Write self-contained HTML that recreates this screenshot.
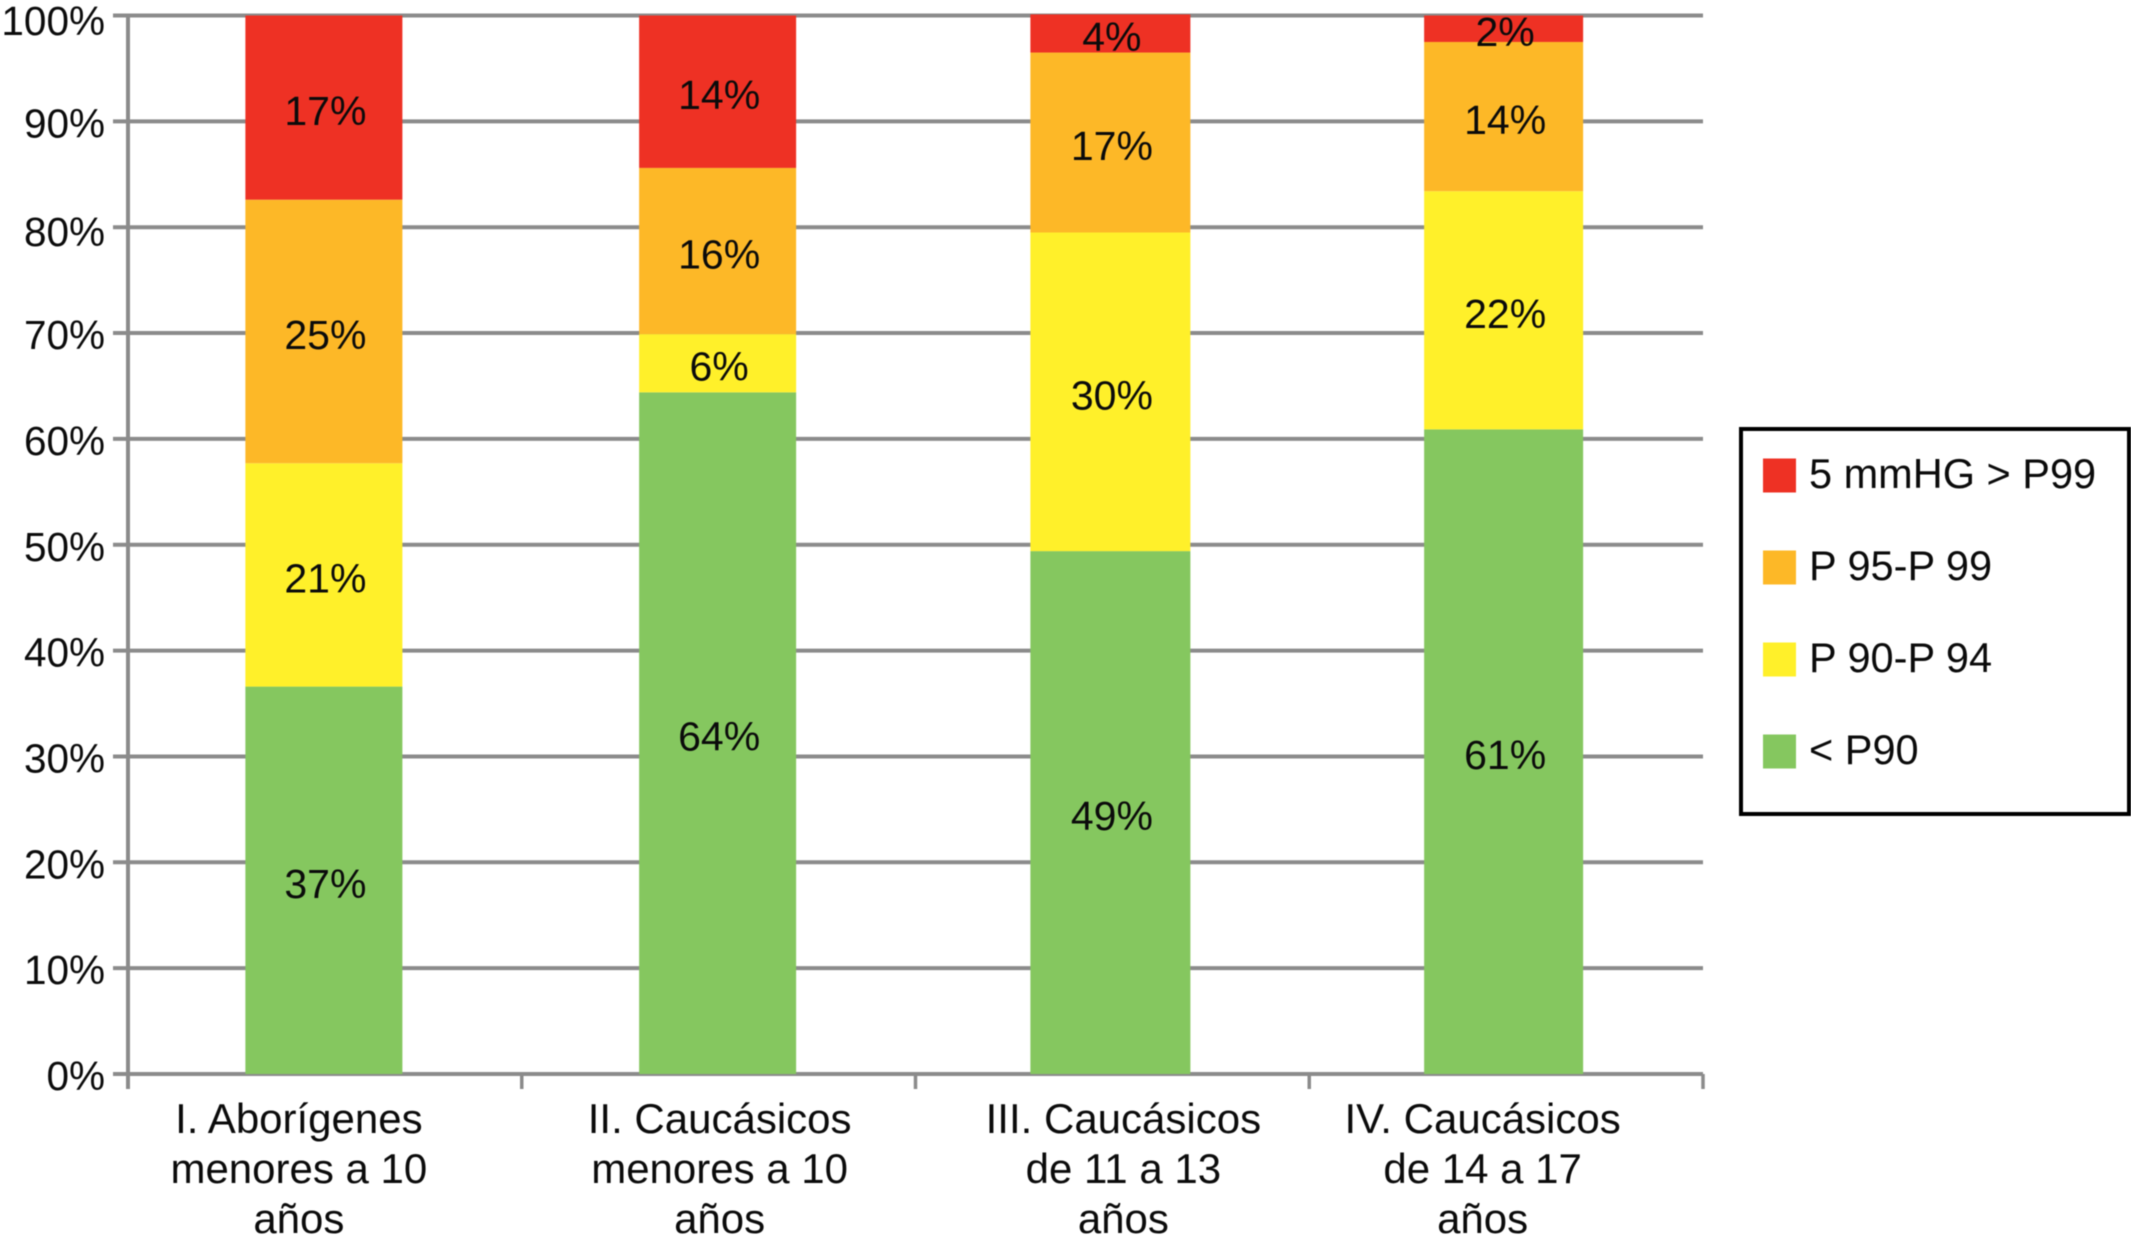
<!DOCTYPE html>
<html lang="es">
<head>
<meta charset="utf-8">
<title>Distribución por percentiles de presión arterial</title>
<style>
html,body{margin:0;padding:0;background:#fff;width:2131px;height:1242px;overflow:hidden}
svg{display:block;filter:blur(0.4px)}
text{font-family:"Liberation Sans",Arial,sans-serif;fill:#0b0b0b}
</style>
</head>
<body>
<svg id="chart" xmlns="http://www.w3.org/2000/svg" width="2131" height="1242" viewBox="0 0 2131 1242">
<g id="grid"></g>
<g id="axes"></g>
<g id="bars"></g>
<g id="labels"></g>
<g id="cats"></g>
<g id="yticks"></g>
<g id="legend">
<rect x="1741" y="429" width="388" height="385" fill="#fff" stroke="#000" stroke-width="4"/>
<g id="legend-items"></g>
</g>
</svg>
<script>
const categories = [
  ["I. Aborígenes", "menores a 10", "años"],
  ["II. Caucásicos", "menores a 10", "años"],
  ["III. Caucásicos", "de 11 a 13", "años"],
  ["IV. Caucásicos", "de 14 a 17", "años"]
];
const seriesNames = ["< P90", "P 90-P 94", "P 95-P 99", "5 mmHG > P99"];
const belowP90 = [36.6, 64.4, 49.4, 60.9];
const p90to94 = [21.1, 5.5, 30.1, 22.5];
const p95to99 = [24.9, 15.7, 17.0, 14.1];
const above99 = [17.4, 14.4, 3.6, 2.5];
const printedBelowP90 = ["37%", "64%", "49%", "61%"];
const printedP90to94 = ["21%", "6%", "30%", "22%"];
const printedP95to99 = ["25%", "16%", "17%", "14%"];
const printedAbove99 = ["17%", "14%", "4%", "2%"];
const yTicks = [0, 10, 20, 30, 40, 50, 60, 70, 80, 90, 100];

const NS = "http://www.w3.org/2000/svg";
const plot = {left: 128, right: 1703, top: 15.5, bottom: 1074};
const seriesColors = ["#85c75f", "#fff02a", "#fdb827", "#ee3124"];
const seriesKeys = ["below-p90", "p90-p94", "p95-p99", "above-p99"];
const allSeries = [belowP90, p90to94, p95to99, above99];
const allPrinted = [printedBelowP90, printedP90to94, printedP95to99, printedAbove99];

function yScale(v) { return plot.bottom - (v / 100) * (plot.bottom - plot.top); }
function bandWidth() { return (plot.right - plot.left) / categories.length; }
function xCenter(i) { return plot.left + bandWidth() * (i + 0.5) - 1 + [0, 0, -1, -1.5][i]; }
function barWidth(i) { return [157, 157, 160, 159][i]; }
function make(tag, parent) { const el = document.createElementNS(NS, tag); parent.appendChild(el); return el; }
function setAll(el, o) { for (const k in o) el.setAttribute(k, o[k]); }

const gridG = document.getElementById("grid");
const axesG = document.getElementById("axes");
const barsG = document.getElementById("bars");
const labelsG = document.getElementById("labels");
const catsG = document.getElementById("cats");
const ytG = document.getElementById("yticks");
const legendG = document.getElementById("legend-items");

yTicks.forEach(function (t) {
  const y = yScale(t);
  const line = make("line", gridG);
  
  
  setAll(line, {x1: 113, x2: plot.right, y1: y, y2: y, stroke: "#8b8b8b", "stroke-width": 4});
  const label = make("text", ytG);
  
  
  const nudge = t === 100 ? 3.5 : (t === 80 ? 3 : 0);
  setAll(label, {x: 105, y: y + 16 + nudge, "text-anchor": "end", "font-size": 40.5});
  label.textContent = t + "%";
});

const yAxis = make("line", axesG);


setAll(yAxis, {x1: plot.left, x2: plot.left, y1: plot.top, y2: plot.bottom + 15, stroke: "#8b8b8b", "stroke-width": 4});

for (let i = 1; i <= categories.length; i++) {
  const x = plot.left + bandWidth() * i;
  const tick = make("line", axesG);
  
  
  setAll(tick, {x1: x, x2: x, y1: plot.bottom, y2: plot.bottom + 15, stroke: "#8b8b8b", "stroke-width": 3.5});
}

categories.forEach(function (lines, i) {
  const cx = xCenter(i);
  const w = barWidth(i);
  let base = 0;
  allSeries.forEach(function (series, s) {
    const v = series[i];
    const y0 = yScale(base);
    const y1 = yScale(base + v);
    const bar = make("rect", barsG);
    
    
    setAll(bar, {x: cx - w / 2, y: y1, width: w, height: y0 - y1, fill: seriesColors[s], "data-series": seriesKeys[s]});
    const val = make("text", labelsG);
    
    
    setAll(val, {x: cx + 1.5, y: (y0 + y1) / 2 + 17.5, "text-anchor": "middle", "font-size": 41});
    val.textContent = allPrinted[s][i];
    base += v;
  });
  const nudge = [-25, 2, 13, -21][i];
  lines.forEach(function (ln, k) {
    const t = make("text", catsG);
    
    
    setAll(t, {x: cx + nudge, y: 1133 + k * 50, "text-anchor": "middle", "font-size": 42});
    t.textContent = ln;
  });
});

for (let s = seriesNames.length - 1, row = 0; s >= 0; s--, row++) {
  const top = 458.5 + row * 92;
  const sw = make("rect", legendG);
  
  
  setAll(sw, {x: 1763, y: top, width: 33, height: 34, fill: seriesColors[s]});
  const tx = make("text", legendG);
  
  
  setAll(tx, {x: 1809, y: top + 29.5, "font-size": 41.5});
  tx.textContent = seriesNames[s];
}
</script>
</body>
</html>
